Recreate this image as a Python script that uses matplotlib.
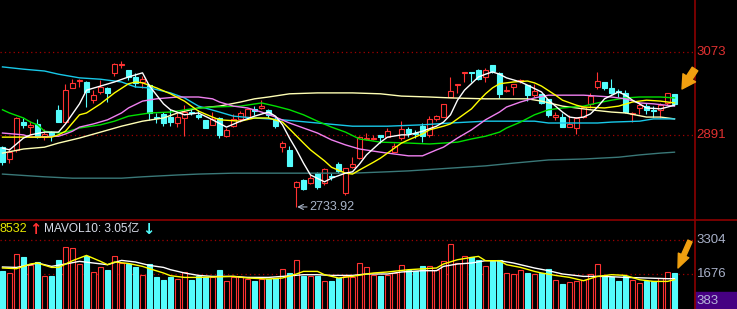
#! /usr/bin/env python3

import numpy as np
import matplotlib
matplotlib.use('Agg')
import matplotlib.pyplot as plt
from matplotlib.lines import Line2D
from matplotlib.patches import Rectangle, FancyArrowPatch

# daily candles, oldest first
opens = [2865, 2839, 2859, 2920, 2909, 2916, 2887, 2898, 2947, 2920,
	2995, 3010, 3008, 2968, 2986, 2995, 3028, 3045, 3034, 3019,
	3008, 3001, 2931, 2938, 2931, 2918, 2929, 2942, 2936, 2925,
	2914, 2929, 2889, 2911, 2927, 2931, 2949, 2951, 2947, 2927,
	2865, 2859, 2778, 2793, 2786, 2808, 2786, 2802, 2828, 2765,
	2821, 2841, 2883, 2883, 2892, 2887, 2854, 2885, 2905, 2896,
	2911, 2892, 2927, 2931, 2975, 3001, 3028, 3030, 3034, 3019,
	3045, 3028, 2988, 2997, 3010, 3001, 2979, 2982, 2971, 2931,
	2931, 2909, 2907, 2931, 2960, 2997, 3008, 2995, 2988, 2984,
	2938, 2951, 2955, 2947, 2947, 2962, 2982]
highs = [2868, 2863, 2931, 2929, 2922, 2927, 2905, 2900, 2957, 3004,
	3014, 3014, 3010, 2990, 3012, 2997, 3050, 3054, 3034, 3028,
	3021, 3004, 2940, 2942, 2949, 2940, 2957, 2949, 2947, 2925,
	2942, 2931, 2907, 2938, 2944, 2951, 2955, 2968, 2949, 2931,
	2878, 2868, 2791, 2795, 2804, 2811, 2819, 2808, 2832, 2819,
	2843, 2889, 2896, 2892, 2892, 2907, 2874, 2922, 2909, 2903,
	2918, 2933, 2936, 2960, 3019, 3004, 3030, 3030, 3036, 3039,
	3045, 3030, 2999, 3004, 3014, 3001, 3004, 2982, 2971, 2942,
	2940, 2936, 2931, 2955, 2984, 3030, 3008, 3014, 2993, 2990,
	2942, 2964, 2962, 2955, 2962, 2984, 2982]
lows = [2826, 2830, 2854, 2907, 2892, 2885, 2881, 2878, 2920, 2920,
	2995, 2997, 2953, 2962, 2982, 2964, 3021, 3039, 3012, 2997,
	2995, 2925, 2918, 2911, 2911, 2909, 2889, 2936, 2927, 2907,
	2914, 2885, 2887, 2909, 2920, 2929, 2936, 2949, 2929, 2907,
	2854, 2824, 2733.92, 2771, 2784, 2773, 2782, 2793, 2808, 2760,
	2819, 2839, 2881, 2881, 2874, 2887, 2854, 2881, 2887, 2885,
	2876, 2887, 2922, 2931, 2975, 2984, 3008, 3008, 3012, 3008,
	3028, 2973, 2986, 2979, 3006, 2966, 2975, 2960, 2931, 2925,
	2909, 2909, 2894, 2929, 2951, 2993, 2990, 2982, 2975, 2940,
	2920, 2938, 2938, 2931, 2929, 2957, 2957]
closes = [2832, 2854, 2929, 2914, 2914, 2887, 2894, 2892, 2920, 2990,
	3006, 3012, 2986, 2979, 2997, 2984, 3047, 3047, 3019, 3006,
	3014, 2940, 2929, 2918, 2920, 2931, 2942, 2940, 2931, 2907,
	2927, 2892, 2903, 2927, 2940, 2949, 2944, 2955, 2936, 2911,
	2874, 2824, 2789, 2773, 2797, 2778, 2817, 2800, 2813, 2819,
	2828, 2887, 2885, 2885, 2887, 2900, 2868, 2905, 2896, 2894,
	2889, 2927, 2933, 2960, 2988, 3004, 3030, 3028, 3014, 3034,
	3032, 2982, 2990, 3004, 3012, 2979, 2988, 2962, 2936, 2936,
	2909, 2916, 2929, 2953, 2977, 3010, 2995, 2984, 2986, 2942,
	2940, 2957, 2947, 2944, 2957, 2984, 2960]
volumes = [1834, 1724, 2633, 2471, 2121, 2231, 1594, 1561, 2360, 2969,
	2921, 2155, 2519, 1772, 2011, 1882, 2538, 2202, 2155, 2025,
	1642, 2169, 1513, 1403, 1513, 1451, 1772, 1403, 1561, 1513,
	1513, 1882, 1355, 1513, 1513, 1451, 1355, 1451, 1436, 1482,
	1930, 1724, 2360, 1561, 1561, 1561, 1355, 1355, 1482, 1561,
	1513, 2202, 1992, 1642, 1561, 1642, 1724, 2121, 1882, 1834,
	2040, 2073, 1882, 2313, 3112, 2202, 2519, 2471, 2360, 2040,
	2281, 2360, 1724, 1676, 1882, 1724, 1676, 1724, 1930, 1403,
	1211, 1293, 1355, 1403, 1676, 2155, 1609, 1513, 1321, 1561,
	1403, 1245, 1321, 1321, 1484, 1772, 1724]

# moving averages, read at selected candles (index, value)
ma5_i = [0, 1, 3, 4, 6, 8, 9, 11, 12, 14, 16, 18, 20, 21, 23, 24, 26, 28, 30, 32,
	34, 36, 38, 39, 40, 41, 42, 43, 44, 46, 47, 49, 50, 51, 52, 54, 55, 57, 58, 60,
	62, 63, 64, 65, 66, 68, 69, 70, 71, 72, 74, 75, 77, 78, 79, 80, 81, 82, 83, 84,
	85, 86, 88, 89, 90, 91, 92, 94, 96]
ma5 = [2863, 2859, 2885, 2892, 2898, 2898, 2916, 2960, 2990, 2999, 3008, 3019, 3028, 2999, 2960, 2947, 2936, 2940, 2925, 2909,
	2922, 2933, 2942, 2933, 2914, 2885, 2859, 2830, 2804, 2789, 2797, 2808, 2811, 2828, 2848, 2876, 2887, 2892, 2892, 2900,
	2911, 2920, 2936, 2968, 2990, 3019, 3025, 3030, 3025, 3017, 3008, 3001, 2986, 2968, 2955, 2942, 2931, 2929, 2931, 2938,
	2953, 2971, 2986, 2979, 2968, 2960, 2951, 2949, 2957]
ma10_i = [0, 7, 8, 9, 11, 12, 14, 16, 18, 19, 20, 22, 24, 26, 28, 30, 31, 34, 36, 38,
	40, 41, 43, 44, 46, 47, 49, 50, 51, 53, 54, 55, 57, 58, 60, 61, 63, 64, 65, 67,
	68, 69, 70, 71, 73, 75, 76, 77, 79, 80, 82, 83, 86, 88, 90, 92, 94, 96]
ma10 = [2887, 2887, 2892, 2900, 2936, 2940, 2960, 2984, 3004, 3008, 3006, 2995, 2982, 2966, 2944, 2931, 2925, 2922, 2929, 2929,
	2920, 2905, 2874, 2859, 2835, 2821, 2808, 2806, 2815, 2832, 2841, 2852, 2874, 2881, 2894, 2903, 2911, 2916, 2927, 2949,
	2966, 2982, 2995, 3004, 3008, 3010, 3006, 2999, 2979, 2968, 2957, 2953, 2951, 2955, 2964, 2968, 2966, 2962]
ma20_i = [0, 3, 4, 8, 9, 10, 11, 13, 15, 17, 18, 20, 22, 25, 28, 30, 31, 33, 35, 37,
	39, 41, 43, 45, 47, 49, 51, 54, 56, 58, 60, 62, 63, 65, 67, 69, 71, 72, 74, 76,
	78, 83, 85, 87, 89, 91, 93, 96]
ma20 = [2896, 2892, 2887, 2889, 2894, 2900, 2909, 2916, 2925, 2940, 2951, 2966, 2971, 2975, 2975, 2971, 2964, 2955, 2951, 2942,
	2931, 2918, 2907, 2896, 2881, 2870, 2861, 2854, 2850, 2846, 2846, 2859, 2865, 2885, 2903, 2925, 2942, 2953, 2964, 2973,
	2979, 2979, 2977, 2975, 2971, 2962, 2960, 2955]
ma30_i = [0, 1, 3, 4, 5, 6, 8, 9, 11, 14, 16, 18, 21, 24, 27, 30, 34, 37, 39, 41,
	43, 45, 47, 49, 51, 54, 58, 61, 63, 65, 67, 69, 71, 72, 74, 76, 78, 80, 83, 85,
	87, 89, 91, 94, 96]
ma30 = [2947, 2940, 2929, 2920, 2914, 2900, 2896, 2898, 2907, 2914, 2922, 2933, 2940, 2942, 2949, 2953, 2955, 2962, 2955, 2947,
	2936, 2922, 2909, 2898, 2883, 2876, 2874, 2872, 2874, 2876, 2883, 2889, 2898, 2907, 2920, 2936, 2947, 2951, 2955, 2962,
	2968, 2973, 2975, 2975, 2973]
ma60_i = [0, 3, 6, 8, 11, 14, 17, 19, 21, 24, 26, 28, 31, 33, 36, 40, 45, 50, 55, 60,
	64, 69, 76, 78, 85, 87, 91, 93, 96]
ma60 = [3041, 3036, 3032, 3025, 3017, 3014, 3008, 2997, 2995, 2984, 2973, 2955, 2942, 2933, 2929, 2925, 2918, 2911, 2911, 2914,
	2918, 2922, 2922, 2918, 2918, 2920, 2922, 2927, 2927]
ma120_i = [0, 3, 6, 8, 11, 14, 17, 20, 23, 25, 28, 31, 34, 36, 38, 41, 45, 50, 54, 57,
	61, 64, 69, 75, 77, 80, 82, 84, 87, 89, 92, 94, 96]
ma120 = [2852, 2861, 2865, 2874, 2885, 2898, 2911, 2922, 2929, 2940, 2951, 2955, 2964, 2971, 2975, 2982, 2984, 2984, 2982, 2977,
	2975, 2973, 2971, 2971, 2966, 2955, 2951, 2947, 2942, 2940, 2931, 2931, 2927]
ma250_i = [0, 4, 6, 10, 17, 20, 25, 28, 33, 41, 50, 55, 58, 62, 66, 69, 73, 78, 83, 88,
	91, 94, 96]
ma250 = [2806, 2802, 2800, 2797, 2797, 2800, 2804, 2806, 2808, 2808, 2808, 2811, 2813, 2817, 2821, 2824, 2830, 2837, 2839, 2843,
	2848, 2852, 2854]

# volume averages (index, value)
mavol5_i = [0, 2, 4, 5, 7, 8, 10, 12, 14, 15, 16, 18, 20, 21, 23, 24, 26, 28, 33, 35,
	38, 40, 42, 43, 45, 46, 48, 50, 52, 53, 55, 58, 62, 63, 65, 67, 68, 69, 71, 72,
	74, 76, 77, 79, 81, 83, 85, 87, 89, 91, 93, 95, 96]
mavol5 = [1963, 1930, 2155, 2202, 1992, 1992, 2313, 2566, 2281, 2121, 2250, 2180, 2040, 1930, 1724, 1594, 1513, 1513, 1561, 1484,
	1436, 1484, 1676, 1800, 1800, 1642, 1484, 1561, 1676, 1724, 1772, 1882, 1963, 2155, 2360, 2471, 2519, 2313, 2313, 2121,
	1992, 1800, 1724, 1609, 1513, 1355, 1561, 1642, 1609, 1403, 1321, 1321, 1403]
mavol10_i = [0, 2, 4, 5, 7, 9, 11, 13, 15, 17, 19, 21, 23, 24, 26, 28, 30, 33, 35, 38,
	40, 43, 45, 47, 50, 52, 55, 57, 60, 62, 63, 65, 67, 69, 71, 73, 74, 76, 78, 80,
	83, 86, 89, 92, 95, 96]
mavol10 = [2011, 1992, 2121, 2202, 2040, 2155, 2281, 2202, 2121, 2327, 2250, 2088, 1992, 1882, 1724, 1609, 1561, 1561, 1513, 1513,
	1561, 1642, 1642, 1609, 1609, 1676, 1676, 1772, 1834, 1834, 2040, 2155, 2202, 2313, 2313, 2202, 2121, 1963, 1834, 1676,
	1561, 1561, 1513, 1484, 1451, 1451]

price_ticks = [3073, 2891]
volume_ticks = [3304, 1676]
volume_floor = '383'
low_label = 2733.92

RED = '#ff3232'
CYAN = '#54fcfc'
GRID = '#a00000'
SEP = '#8c0000'
GOLD = '#f0a010'

W, H = 737, 309
PLOT_W = 694
SPLIT = 219


def draw_candles(ax, x, o, h, l, c):
	up = c >= o
	dn = ~up
	bot = np.minimum(o, c)
	top = np.maximum(o, c)
	ax.bar(x[up], (c - o)[up], bottom=bot[up], width=0.62,
		facecolor='black', edgecolor=RED, linewidth=0.8, zorder=2)
	ax.bar(x[dn], (o - c)[dn], bottom=bot[dn], width=0.62,
		facecolor=CYAN, edgecolor=CYAN, linewidth=0.8, zorder=2)
	ax.vlines(x[up], top[up], h[up], color=RED, lw=0.8, zorder=2)
	ax.vlines(x[up], l[up], bot[up], color=RED, lw=0.8, zorder=2)
	ax.vlines(x[dn], l[dn], h[dn], color=CYAN, lw=0.8, zorder=2)


def main():
	plt.rcParams['font.family'] = ['Liberation Sans', 'Noto Sans CJK SC', 'DejaVu Sans']

	o = np.array(opens, float)
	h = np.array(highs, float)
	l = np.array(lows, float)
	c = np.array(closes, float)
	v = np.array(volumes, float)
	x = np.arange(len(o))

	fig = plt.figure(figsize=(W / 100, H / 100), dpi=100, facecolor='black')

	# price panel
	ax = fig.add_axes([0, (H - SPLIT) / H, PLOT_W / W, SPLIT / H])
	ax.set_facecolor('black')
	ax.set_xlim(-2.5 / 7, (PLOT_W - 2.5) / 7)
	ax.set_ylim(2707.5, 3187.7)
	ax.axis('off')

	for t in price_ticks:
		ax.axhline(t, color=GRID, ls=(0, (1, 2.5)), lw=0.9, zorder=1)
		ax.text(1.004, t, str(t), transform=ax.get_yaxis_transform(),
			color='#e03030', fontsize=9.5, va='center', ha='left')

	draw_candles(ax, x, o, h, l, c)

	ax.plot(ma250_i, ma250, color='#3a7878', lw=1.0, zorder=3)
	ax.plot(ma120_i, ma120, color='#ffffb4', lw=1.0, zorder=3)
	ax.plot(ma60_i, ma60, color='#18c8e8', lw=1.0, zorder=3)
	ax.plot(ma30_i, ma30, color='#00e000', lw=1.0, zorder=3)
	ax.plot(ma20_i, ma20, color='#f080f0', lw=1.0, zorder=3)
	ax.plot(ma10_i, ma10, color='#ffff00', lw=1.0, zorder=3)
	ax.plot(ma5_i, ma5, color='#ffffff', lw=1.0, zorder=3)

	# lowest point marker
	i_low = int(np.argmin(l))
	ax.annotate(f'{low_label:.2f}', xy=(i_low + 0.1, low_label), xytext=(i_low + 1.9, low_label),
		color='#a8b4c8', fontsize=9, va='center', ha='left',
		arrowprops=dict(arrowstyle='->', color='#a8b4c8', lw=0.8, shrinkA=0, shrinkB=0))

	# volume panel
	vax = fig.add_axes([0, 0, PLOT_W / W, (H - SPLIT) / H])
	vax.set_facecolor('black')
	vax.set_xlim(-2.5 / 7, (PLOT_W - 2.5) / 7)
	vax.set_ylim(0, 4309)
	vax.axis('off')

	for t in volume_ticks:
		vax.axhline(t, color=GRID, ls=(0, (1, 2.5)), lw=0.9, zorder=1)
		vax.text(1.004, t, str(t), transform=vax.get_yaxis_transform(),
			color='#a8b0c8', fontsize=9.5, va='center', ha='left')

	up = c >= o
	vax.bar(x[up], v[up], width=0.62, facecolor='black', edgecolor=RED, linewidth=0.8, zorder=2)
	vax.bar(x[~up], v[~up], width=0.62, facecolor=CYAN, edgecolor=CYAN, linewidth=0.8, zorder=2)
	vax.plot(mavol10_i, mavol10, color='#ffffff', lw=1.0, zorder=3)
	vax.plot(mavol5_i, mavol5, color='#ffff00', lw=1.0, zorder=3)

	# legend row of the volume panel
	ty = (H - 229) / H
	fig.text(0 / W, ty, '8532', color='#e8e800', fontsize=9, va='center')
	fig.text(29 / W, ty, '\u2191', color=RED, fontsize=10.5, fontweight='bold', va='center',
		family=['DejaVu Sans'])
	fig.text(44 / W, ty, 'MAVOL10: 3.05亿', color='#d8dce8', fontsize=8.6, va='center')
	fig.text(142 / W, ty, '\u2193', color=CYAN, fontsize=10.5, fontweight='bold', va='center',
		family=['DejaVu Sans'])

	# frame lines
	fig.add_artist(Line2D([(PLOT_W + 0.5) / W] * 2, [0, 1], transform=fig.transFigure, color=SEP, lw=1.2))
	fig.add_artist(Line2D([0, 1], [(H - SPLIT - 0.5) / H] * 2, transform=fig.transFigure, color=SEP, lw=1.2))

	# bottom-right box
	fig.add_artist(Rectangle(((PLOT_W + 1) / W, 0), (W - PLOT_W - 1) / W, 17 / H,
		transform=fig.transFigure, color='#460082', zorder=0))
	fig.text((PLOT_W + 2.5) / W, 8.5 / H, volume_floor, color='#b4b4d8', fontsize=9.5, va='center')

	# pointer arrows at the last candle
	fig.add_artist(FancyArrowPatch((695, H - 69), (682, H - 89), transform=None,
		arrowstyle='simple,head_length=0.8,head_width=0.9,tail_width=0.4',
		mutation_scale=12, color=GOLD, shrinkA=0, shrinkB=0, zorder=5))
	fig.add_artist(FancyArrowPatch((690, H - 241), (678, H - 268), transform=None,
		arrowstyle='simple,head_length=0.9,head_width=0.75,tail_width=0.3',
		mutation_scale=11, color=GOLD, shrinkA=0, shrinkB=0, zorder=5))

	fig.savefig('out.png', dpi=100, facecolor='black')


if __name__ == "__main__":
	main()
